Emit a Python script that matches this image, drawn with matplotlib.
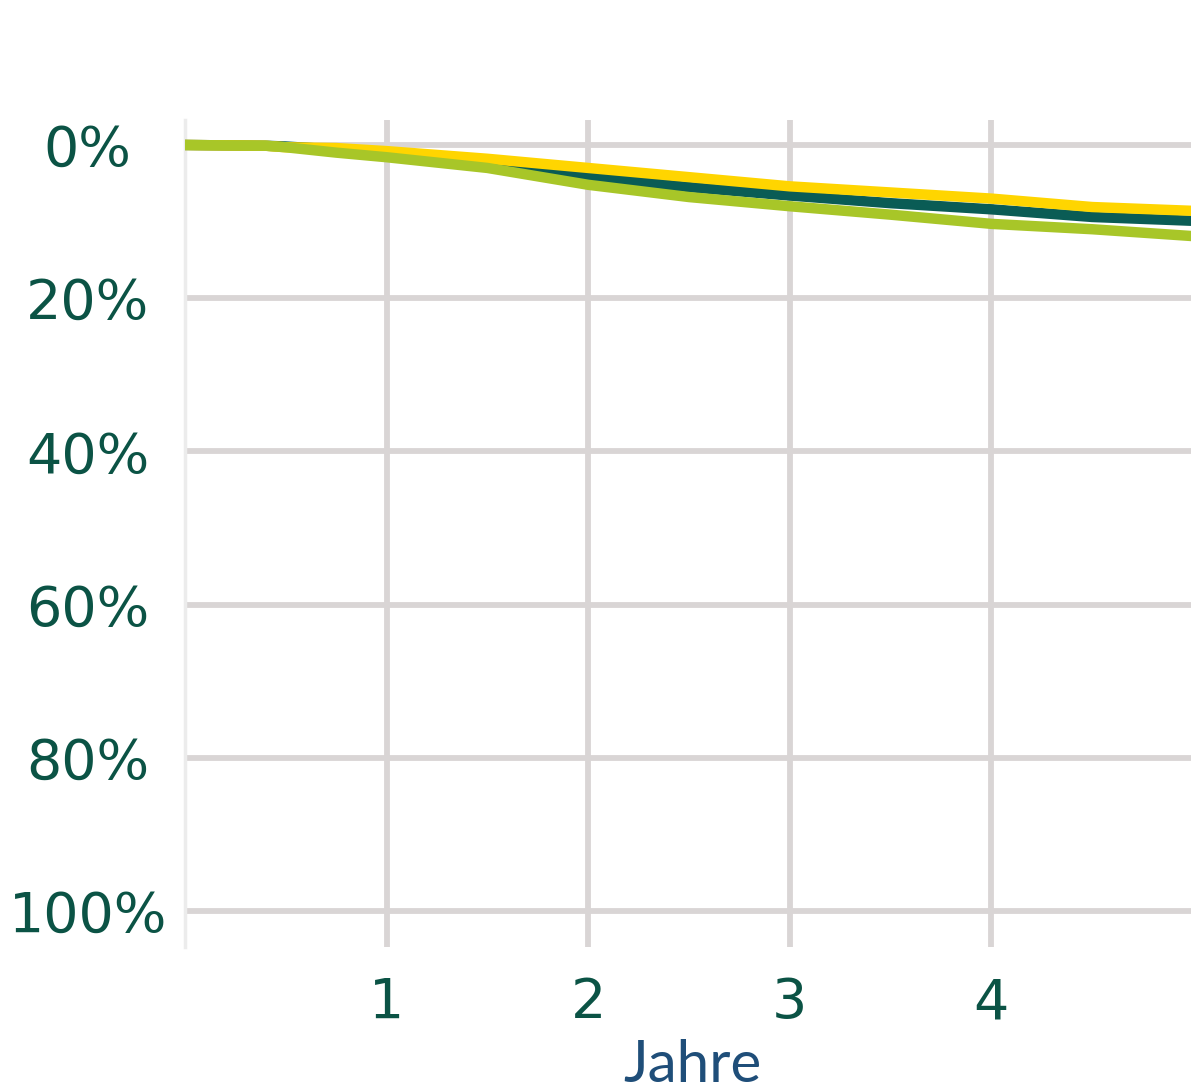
import matplotlib.pyplot as plt

# Jahre seit Beginn
jahre = [0, 0.4, 0.5, 0.75, 1, 1.5, 2, 2.5, 3, 3.5, 4, 4.5, 5]

# kumulierte Anteile in Prozent (0% oben, 100% unten)
gelb = [0, 0.1, 0.3, 0.4, 0.8, 1.8, 3.0, 4.2, 5.4, 6.2, 7.0, 8.1, 8.6]
dunkelgruen = [0, 0.1, 0.2, 0.6, 1.2, 2.6, 4.2, 5.5, 6.6, 7.6, 8.4, 9.4, 9.9]
hellgruen = [0, 0.1, 0.3, 1.0, 1.6, 3.0, 5.2, 6.8, 8.0, 9.1, 10.3, 11.0, 11.9]

y_ticks = [0, 20, 40, 60, 80, 100]
y_labels = ['0%', '20%', '40%', '60%', '80%', '100%']
x_ticks = [1, 2, 3, 4]

text_farbe = '#0B5345'
grid_farbe = '#D9D5D5'

fig = plt.figure(figsize=(11.91, 10.91), dpi=100)
ax = fig.add_axes([185 / 1191, 144 / 1091, 1 - 185 / 1191, 827 / 1091])

ax.plot(jahre, dunkelgruen, color='#0A5C55', lw=7.5, zorder=3, solid_capstyle='butt')
ax.plot(jahre, gelb, color='#FFD500', lw=7.5, zorder=4, solid_capstyle='butt')
ax.plot(jahre, hellgruen, color='#A8C628', lw=7.5, zorder=5, solid_capstyle='butt')

ax.set_xlim(0, 4.99)
ax.set_ylim(104.7, -3.26)

ax.set_yticks(y_ticks)
ax.set_yticklabels(y_labels)
ax.set_xticks(x_ticks)
ax.set_xticklabels([str(t) for t in x_ticks])

for lab in ax.get_yticklabels():
    lab.set_horizontalalignment('center')
ax.tick_params(axis='y', length=0, pad=70, labelsize=40, labelcolor=text_farbe)
ax.tick_params(axis='x', length=0, pad=21, labelsize=40, labelcolor=text_farbe)

ax.grid(True, color=grid_farbe, lw=4.2, zorder=1)
ax.set_axisbelow(True)

for s in ['top', 'right', 'bottom']:
    ax.spines[s].set_visible(False)
ax.spines['left'].set_color('#ECECEC')
ax.spines['left'].set_linewidth(2.5)

fig.text(692 / 1191, 9 / 1091, 'Jahre', ha='center', va='baseline',
         fontsize=42, color='#1F4E79', family='Lato')

fig.savefig('out.png', dpi=100)
